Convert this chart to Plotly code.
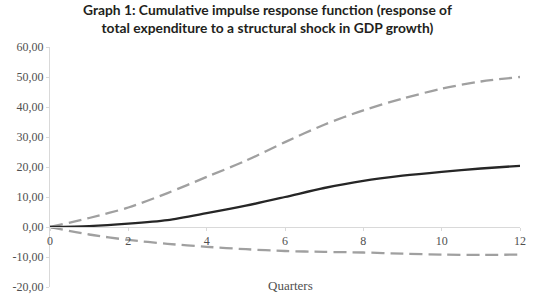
import plotly.graph_objects as go

quarters = [0, 1, 2, 3, 4, 5, 6, 7, 8, 9, 10, 11, 12]
response = [0, 0.3, 1.1, 2.3, 4.6, 7.1, 10.0, 13.0, 15.4, 17.1, 18.4, 19.5, 20.4]
upper = [0, 3.0, 6.5, 11.3, 16.7, 22.1, 28.3, 34.1, 38.9, 42.8, 46.1, 48.5, 50.0]
lower = [0, -2.5, -4.3, -5.6, -6.6, -7.4, -8.0, -8.3, -8.5, -8.9, -9.2, -9.3, -9.2]

y_tickvals = [-20, -10, 0, 10, 20, 30, 40, 50, 60]
y_ticktext = ["-20,00", "-10,00", "0,00", "10,00", "20,00", "30,00", "40,00", "50,00", "60,00"]
x_tickvals = [0, 2, 4, 6, 8, 10, 12]

title_lines = ["Graph 1: Cumulative impulse response function (response of",
               "total expenditure to a structural shock in GDP growth)"]
x_title = "Quarters"

fig = go.Figure()
dash_style = dict(color="#a0a0a0", width=2.3, dash="13px,6px", shape="spline", smoothing=0.8)
fig.add_trace(go.Scatter(x=quarters, y=upper, mode="lines", line=dash_style, hoverinfo="skip"))
fig.add_trace(go.Scatter(x=quarters, y=lower, mode="lines", line=dash_style, hoverinfo="skip"))
fig.add_trace(go.Scatter(x=quarters, y=response, mode="lines",
                         line=dict(color="#262626", width=2.3, shape="spline", smoothing=0.8),
                         hoverinfo="skip"))

serif = "Liberation Serif, Times New Roman, serif"
title_html = "<br>".join("<b>" + t + "</b>" for t in title_lines)

fig.update_layout(
    width=533, height=302,
    margin=dict(l=50, r=13, t=47, b=15, autoexpand=False),
    paper_bgcolor="white", plot_bgcolor="white",
    showlegend=False,
    xaxis=dict(range=[0, 12], tickvals=x_tickvals, anchor="free", position=0.25,
               showline=True, linecolor="#d9d9d9", linewidth=1,
               ticks="outside", ticklen=3, tickcolor="#d9d9d9",
               showgrid=False, zeroline=False, automargin=False,
               tickfont=dict(family=serif, size=12, color="#505050")),
    yaxis=dict(range=[-20, 60], tickvals=y_tickvals, ticktext=y_ticktext,
               showline=True, linecolor="#d9d9d9", linewidth=1,
               ticks="outside", ticklen=3, tickcolor="#d9d9d9",
               showgrid=False, zeroline=False, automargin=False,
               tickfont=dict(family=serif, size=12, color="#505050")),
    annotations=[
        dict(text=title_html, xref="paper", yref="paper", x=0.462, y=1.2,
             xanchor="center", yanchor="top", showarrow=False, align="center",
             font=dict(family="Lato, Open Sans, sans-serif", size=13.8, color="#231f20")),
        dict(text=x_title, xref="paper", yref="paper", x=0.512, y=0.005,
             xanchor="center", yanchor="middle", showarrow=False,
             font=dict(family=serif, size=13, color="#505050")),
    ],
)

fig.write_html("out.html", config={"displayModeBar": False},
               post_script="document.body.style.margin='0';document.body.style.overflow='hidden';")
